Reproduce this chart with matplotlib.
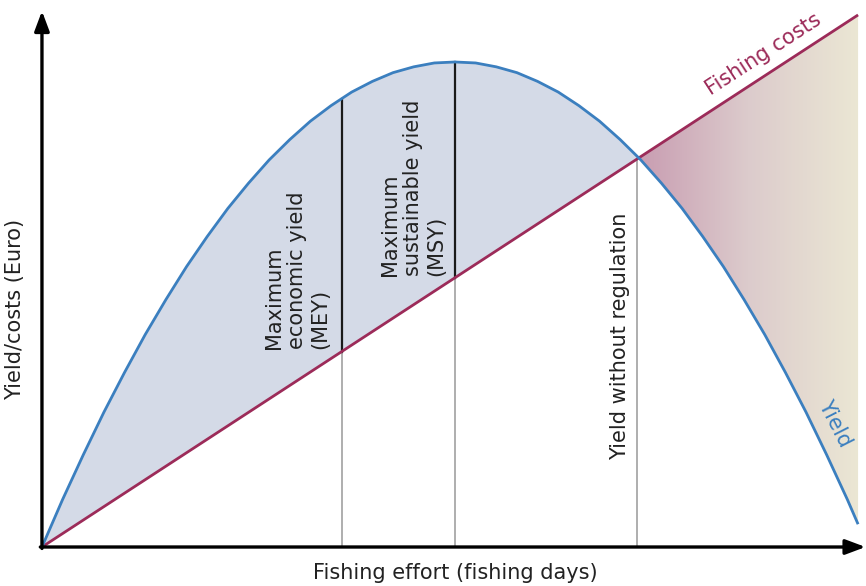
import matplotlib
matplotlib.use("Agg")
import matplotlib.pyplot as plt
import numpy as np
from matplotlib.colors import LinearSegmentedColormap
from matplotlib.patches import Polygon

# Fishing effort (fishing days, arbitrary units) and yield (Euro)
effort = [0, 0.25, 0.5, 0.75, 1, 1.25, 1.5, 1.75, 2, 2.25, 2.5, 2.75, 3, 3.25, 3.5,
          3.75, 4, 4.25, 4.5, 4.75, 5, 5.25, 5.5, 5.75, 6, 6.25, 6.5, 6.75, 7, 7.25,
          7.5, 7.75, 8, 8.25, 8.5, 8.75, 9, 9.25, 9.5, 9.75, 9.88]
yield_euro = [0, 9.8, 19, 27.8, 36, 43.8, 51, 57.8, 64, 69.8, 75, 79.8, 84, 87.8, 91,
              93.8, 96, 97.8, 99, 99.8, 100, 99.8, 99, 97.8, 96, 93.8, 91, 87.8, 84, 79.8,
              75, 69.8, 64, 57.8, 51, 43.8, 36, 27.8, 19, 9.8, 4.7]
cost_effort = [0, 9.88]
cost_euro = [0, 109.7]

# effort levels marked on the chart
mey_effort = 3.63
msy_effort = 5.0
open_effort = 7.2

labels = {
    "mey": "Maximum\neconomic yield\n(MEY)",
    "msy": "Maximum\nsustainable yield\n(MSY)",
    "open": "Yield without regulation",
}

BLUE = "#3b7fbf"
MAROON = "#9c2b59"
FILL = "#d4dae7"
FONT = "DejaVu Sans"
FS = 15

effort = np.array(effort)
yield_euro = np.array(yield_euro)

fig = plt.figure(figsize=(8.66, 5.86), dpi=100)
ax = fig.add_axes([0, 0, 1, 1])
ax.set_xlim(-0.508, 9.976)
ax.set_ylim(-8.04, 112.78)
ax.axis("off")

# area between yield and costs (profit zone)
inside = effort <= open_effort
e_in = np.append(effort[inside], open_effort)
y_in = np.append(yield_euro[inside], np.interp(open_effort, effort, yield_euro))
c_in = np.interp(e_in, cost_effort, cost_euro)
ax.fill_between(e_in, c_in, y_in, color=FILL, lw=0, zorder=1)

# loss zone with a gradient from mauve to beige
outside = effort > open_effort
e_out = np.concatenate([[open_effort], effort[outside]])
y_out = np.interp(e_out, effort, yield_euro)
c_out = np.interp(e_out, cost_effort, cost_euro)
poly = np.vstack([np.column_stack([e_out, c_out]), np.column_stack([e_out[::-1], y_out[::-1]])])
patch = Polygon(poly, closed=True, facecolor="none", edgecolor="none")
ax.add_patch(patch)
cmap = LinearSegmentedColormap.from_list("loss", ["#c89cb1", "#dccbcc", "#ebe7d4"])
grad = np.linspace(0, 1, 256).reshape(1, -1)
im = ax.imshow(grad, cmap=cmap, aspect="auto", extent=[open_effort, cost_effort[1], 0, cost_euro[1]],
               zorder=1, interpolation="bilinear")
im.set_clip_path(patch)

# vertical marker lines
for e in [mey_effort, msy_effort, open_effort]:
    c = np.interp(e, cost_effort, cost_euro)
    y = np.interp(e, effort, yield_euro)
    ax.plot([e, e], [0, c], color="#a8a8a8", lw=1.3, zorder=2)
    if e < open_effort:
        ax.plot([e, e], [c, y], color="#1a1a1a", lw=1.6, zorder=2)

ax.plot(cost_effort, cost_euro, color=MAROON, lw=2, zorder=3, solid_capstyle="butt")
ax.plot(effort, yield_euro, color=BLUE, lw=2, zorder=3, solid_capstyle="butt")

# axes arrows
ax.annotate("", xy=(0, 110.5), xytext=(0, -0.3),
            arrowprops=dict(arrowstyle="-|>,head_length=1.2,head_width=0.45", lw=2.4, color="black",
                            shrinkA=0, shrinkB=0), zorder=4)
ax.annotate("", xy=(9.97, 0), xytext=(-0.02, 0),
            arrowprops=dict(arrowstyle="-|>,head_length=1.2,head_width=0.45", lw=2.4, color="black",
                            shrinkA=0, shrinkB=0), zorder=4)

# texts
tk = dict(family=FONT, fontsize=FS, color="#222222")
ax.text(3.09, np.interp(mey_effort, cost_effort, cost_euro) + 0.6, labels["mey"], rotation=90,
        ha="center", va="bottom", multialignment="left", linespacing=1.2, **tk)
ax.text(4.49, np.interp(msy_effort, cost_effort, cost_euro) + 0.4, labels["msy"], rotation=90,
        ha="center", va="bottom", multialignment="left", linespacing=1.2, **tk)
ax.text(7.0, 17.9, labels["open"], rotation=90, ha="center", va="bottom", **tk)

ax.text(8.74, 101.6, "Fishing costs", rotation=33, ha="center", va="center", family=FONT,
        fontsize=FS, color=MAROON, rotation_mode="anchor")
ax.text(9.6, 25.5, "Yield", rotation=-63, ha="center", va="center", family=FONT,
        fontsize=FS, color=BLUE, rotation_mode="anchor")

ax.text(5.0, -5.4, "Fishing effort (fishing days)", ha="center", va="center", **tk)
ax.text(-0.33, 48.9, "Yield/costs (Euro)", rotation=90, ha="center", va="center", **tk)

fig.savefig("out.png", dpi=100)
